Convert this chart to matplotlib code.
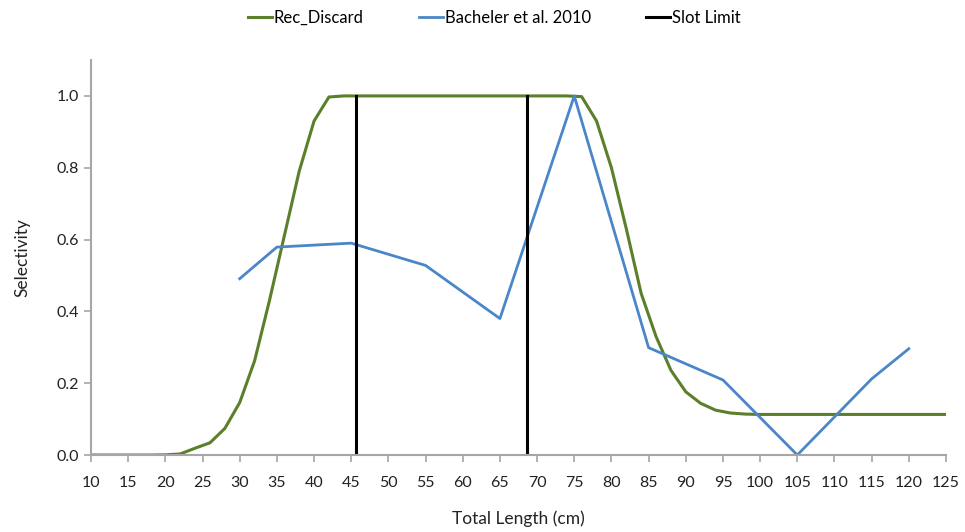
import matplotlib
matplotlib.use("Agg")
import matplotlib.pyplot as plt

plt.rcParams['font.family'] = ['Lato', 'DejaVu Sans']

# Rec_Discard selectivity (every 2 cm)
rec_len = [10, 12, 14, 16, 18, 20, 22, 24, 26, 28, 30, 32, 34, 36, 38, 40, 42, 44,
           46, 50, 56, 60, 66, 70, 74, 76, 78, 80, 82, 84, 86, 88, 90, 92, 94, 96, 98,
           100, 110, 120, 125]
rec_sel = [0.0, 0.0, 0.0, 0.0, 0.0, 0.0005, 0.003, 0.019, 0.034, 0.074, 0.146, 0.262, 0.43, 0.61,
           0.79, 0.93, 0.997, 1.0,
           1.0, 1.0, 1.0, 1.0, 1.0, 1.0, 1.0, 0.998, 0.93, 0.80, 0.63, 0.45, 0.33, 0.236, 0.176,
           0.144, 0.125, 0.117, 0.114, 0.113, 0.113, 0.113, 0.113]

# Bacheler et al. 2010
bach_len = [30, 35, 45, 55, 65, 75, 85, 95, 105, 115, 120]
bach_sel = [0.491, 0.579, 0.590, 0.528, 0.380, 1.0, 0.299, 0.209, 0.0, 0.212, 0.296]

# Slot limit (cm)
slot_len = [45.7, 68.6]
slot_sel = [0.0, 1.0]

x_ticks = list(range(10, 126, 5))
y_ticks = [0.0, 0.2, 0.4, 0.6, 0.8, 1.0]

fig = plt.figure(figsize=(9.65, 5.32), dpi=100)
ax = fig.add_axes([0.0943, 0.1447, 0.8860, 0.7425])

green = '#5B7F2B'
blue = '#4A86C8'

ax.plot(rec_len, rec_sel, color=green, lw=2.2, label='Rec_Discard', solid_joinstyle='round')
ax.plot(bach_len, bach_sel, color=blue, lw=2.0, label='Bacheler et al. 2010', solid_joinstyle='round')
for i, s in enumerate(slot_len):
    ax.plot([s, s], slot_sel, color='black', lw=2.2, label='Slot Limit' if i == 0 else None)

ax.set_xlim(10, 125)
ax.set_ylim(0, 1.1)
ax.set_xticks(x_ticks)
ax.set_xticklabels([str(t) for t in x_ticks])
ax.set_yticks(y_ticks)
ax.set_yticklabels([f"{t:.1f}" for t in y_ticks])

for side in ['top', 'right']:
    ax.spines[side].set_visible(False)
for side in ['left', 'bottom']:
    ax.spines[side].set_color('#A6A6A6')
    ax.spines[side].set_linewidth(1.5)
ax.tick_params(axis='both', colors='#A6A6A6', length=5, width=1.2, labelcolor='#222222',
               labelsize=11.5)
ax.tick_params(axis='x', pad=10)

ax.set_xlabel('Total Length (cm)', fontsize=12.5, color='#222222', labelpad=15)
ax.set_ylabel('Selectivity', fontsize=12.5, color='#222222', labelpad=19)

fig.legend(loc='center', bbox_to_anchor=(0.512, 0.966), ncol=3, frameon=False,
           fontsize=12, handlelength=1.45, handletextpad=0.1, columnspacing=3.3)

fig.savefig('out.png', dpi=100)
